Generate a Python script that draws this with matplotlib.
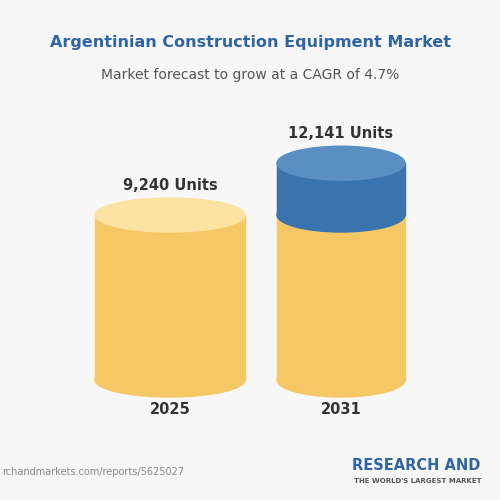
import matplotlib
matplotlib.use("Agg")
import matplotlib.pyplot as plt
from matplotlib.patches import Ellipse, Rectangle

years = ["2025", "2031"]
values = [9240, 12141]
labels = ["9,240 Units", "12,141 Units"]

fig = plt.figure(figsize=(5, 5), dpi=100)
ax = fig.add_axes([0, 0, 1, 1])
ax.set_xlim(0, 500); ax.set_ylim(500, 0); ax.axis("off")
fig.patch.set_facecolor("#f7f7f7")

ax.text(250, 42, "Argentinian Construction Equipment Market", ha="center", va="center",
        fontsize=11.5, fontweight="bold", color="#2e64a8")
ax.text(250, 75, "Market forecast to grow at a CAGR of 4.7%", ha="center", va="center",
        fontsize=10, color="#555555")

base = 380
scale = 165 / values[0]
centers = [170, 341]
widths = [150, 128]
eh = 34
yel, yel_top = "#f6c865", "#fce3a2"
blu, blu_top = "#3a74ae", "#5a8fc4"
for i, (cx, w, v) in enumerate(zip(centers, widths, values)):
    top = base - v * scale
    ax.add_patch(Ellipse((cx, base), w, eh, color=yel, zorder=1))
    ax.add_patch(Rectangle((cx - w/2, top), w, base - top, color=yel, zorder=1))
    if i == 1:
        split = base - values[0] * scale
        ax.add_patch(Ellipse((cx, split), w, eh, color=blu, zorder=2))
        ax.add_patch(Rectangle((cx - w/2, top), w, split - top, color=blu, zorder=2))
        ax.add_patch(Ellipse((cx, top), w, eh, color=blu_top, zorder=3))
    else:
        ax.add_patch(Ellipse((cx, top), w, eh, color=yel_top, zorder=3))
    ax.text(cx, top - 30, labels[i], ha="center", va="center", fontsize=10.5,
            fontweight="bold", color="#333333")
    ax.text(cx, 410, years[i], ha="center", va="center", fontsize=10.5,
            fontweight="bold", color="#333333")

ax.text(2, 472, "rchandmarkets.com/reports/5625027", ha="left", va="center",
        fontsize=7, color="#888888")
ax.text(352, 465, "RESEARCH AND", ha="left", va="center", fontsize=10.5,
        fontweight="bold", color="#2e64a8")
ax.text(354, 481, "THE WORLD'S LARGEST MARKET", ha="left", va="center", fontsize=5,
        fontweight="bold", color="#555555")
fig.savefig("out.png", dpi=100, facecolor=fig.get_facecolor())
